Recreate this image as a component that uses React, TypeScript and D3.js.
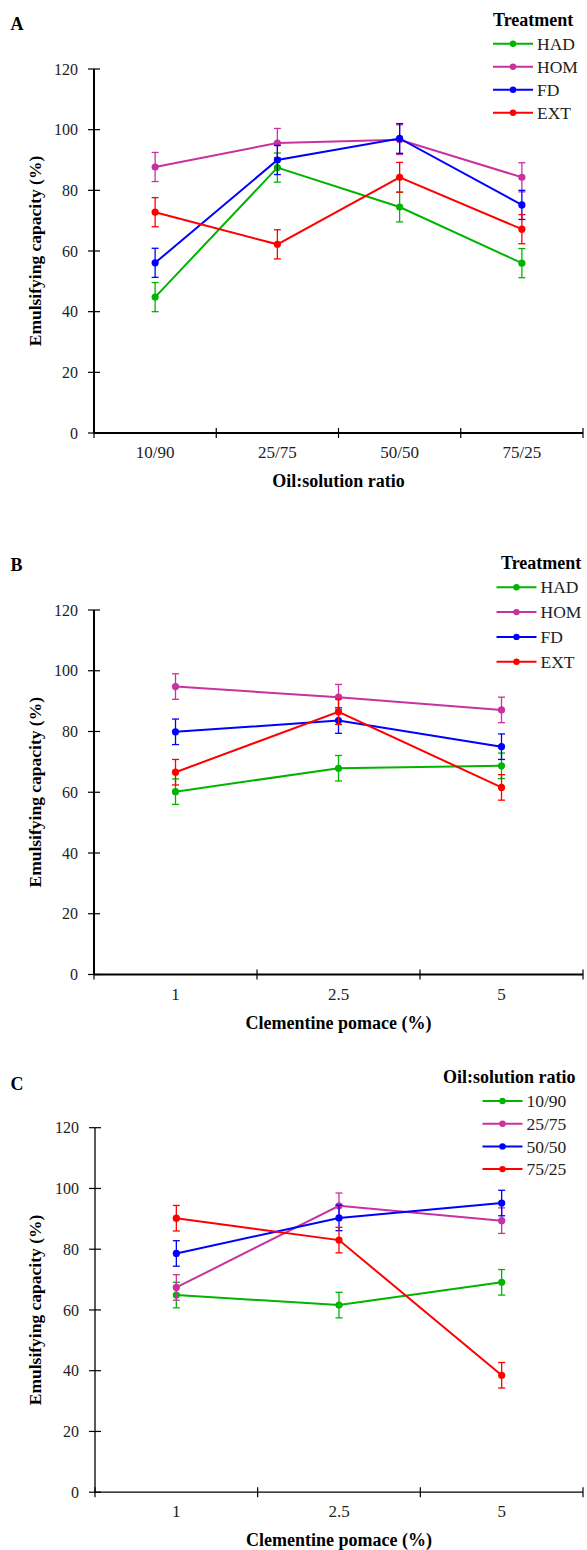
import React from 'react';
import * as d3 from 'd3';

// Panel A: emulsifying capacity by oil:solution ratio
const ratioCats = ['10/90', '25/75', '50/50', '75/25'];
const treatments = ['HAD', 'HOM', 'FD', 'EXT'];
const aHAD = [44.8, 87.5, 74.5, 56.0];
const aHOM = [87.7, 95.6, 96.7, 84.3];
const aFD = [56.1, 90.0, 97.1, 75.2];
const aEXT = [72.8, 62.2, 84.3, 67.2];
const aErr = [4.8, 4.8, 4.9, 4.8];

// Panel B: by clementine pomace, treatments
const pomaceCats = ['1', '2.5', '5'];
const bHAD = [60.2, 67.9, 68.7];
const bHOM = [94.8, 91.3, 87.1];
const bFD = [79.9, 83.6, 75.0];
const bEXT = [66.6, 86.5, 61.6];
const bErr = [4.2, 4.2, 4.2];

// Panel C: by clementine pomace, oil:solution ratios
const c1090 = [64.9, 61.6, 69.1];
const c2575 = [67.4, 94.3, 89.4];
const c5050 = [78.6, 90.3, 95.2];
const c7525 = [90.2, 83.0, 38.5];
const cErr = [4.2, 4.2, 4.2];

const yTicks = [0, 20, 40, 60, 80, 100, 120];
const colors = ['#00b400', '#c8329e', '#0000ff', '#ff0000'];

const font = '"Liberation Serif", "Times New Roman", serif';

type Series = { name: string; values: number[]; err: number[] };

type PanelProps = {
  letter: string;
  letterY: number;
  top: number;
  bottom: number;
  left: number;
  cats: string[];
  series: Series[];
  xTitle: string;
  legendTitle: string;
  legendTitleX: number;
  legendTitleY: number;
  legendX: number;
  legendY: number;
  legendStep: number;
  axisWidth: number;
};

function Panel(p: PanelProps) {
  const left = p.left;
  const right = 583;
  const x = d3.scaleBand<string>().domain(p.cats).range([left, right]);
  const y = d3.scaleLinear().domain([0, 120]).range([p.bottom, p.top]);
  const cx = (c: string) => (x(c) ?? 0) + x.bandwidth() / 2;
  const line = d3
    .line<number>()
    .x((_, i) => cx(p.cats[i]))
    .y(d => y(d));
  const bounds = [left, ...p.cats.map(c => (x(c) ?? 0) + x.bandwidth())];

  return (
    <g style={{ fontFamily: font }}>
      <text x={10.5} y={p.letterY} fontSize={18} fontWeight="bold">{p.letter}</text>
      {/* y axis */}
      <line x1={left} x2={left} y1={y(120)} y2={y(0)} stroke="#000" strokeWidth={p.axisWidth} />
      {yTicks.map(t => (
        <g key={t}>
          <line x1={left - 6} x2={left + 6} y1={y(t)} y2={y(t)} stroke="#000" strokeWidth={1.2} />
          <text x={left - 16} y={y(t)} dy="0.35em" textAnchor="end" fontSize={16} fill="#222">{t}</text>
        </g>
      ))}
      {/* x axis */}
      <line x1={left} x2={right} y1={y(0)} y2={y(0)} stroke="#000" strokeWidth={p.axisWidth} />
      {bounds.map((b, i) => (
        <line key={i} x1={b} x2={b} y1={y(0) - 5} y2={y(0) + 5} stroke="#000" strokeWidth={1.2} />
      ))}
      {p.cats.map(c => (
        <text key={c} x={cx(c)} y={y(0) + 25} textAnchor="middle" fontSize={17} fill="#222">{c}</text>
      ))}
      <text x={(left + right) / 2} y={y(0) + 54} textAnchor="middle" fontSize={18} fontWeight="bold">{p.xTitle}</text>
      <text
        transform={`translate(41,${(y(0) + y(120)) / 2}) rotate(-90)`}
        textAnchor="middle"
        fontSize={17.5}
        fontWeight="bold"
      >
        Emulsifying capacity (%)
      </text>
      {/* series */}
      {p.series.map((s, si) => (
        <g key={s.name}>
          <path d={line(s.values) ?? ''} fill="none" stroke={colors[si]} strokeWidth={2} />
          {s.values.map((v, i) => {
            const px = cx(p.cats[i]);
            const e = s.err[i];
            return (
              <g key={i} stroke={colors[si]} strokeWidth={1.3}>
                <line x1={px} x2={px} y1={y(v + e)} y2={y(v - e)} />
                <line x1={px - 3.5} x2={px + 3.5} y1={y(v + e)} y2={y(v + e)} />
                <line x1={px - 3.5} x2={px + 3.5} y1={y(v - e)} y2={y(v - e)} />
              </g>
            );
          })}
          {s.values.map((v, i) => (
            <circle key={i} cx={cx(p.cats[i])} cy={y(v)} r={3.6} fill={colors[si]} />
          ))}
        </g>
      ))}
      {/* legend */}
      <text x={p.legendTitleX} y={p.legendTitleY} fontSize={18} fontWeight="bold">{p.legendTitle}</text>
      {p.series.map((s, si) => {
        const ly = p.legendY + si * p.legendStep;
        return (
          <g key={s.name}>
            <line x1={p.legendX} x2={p.legendX + 40} y1={ly} y2={ly} stroke={colors[si]} strokeWidth={2} />
            <circle cx={p.legendX + 20} cy={ly} r={3.2} fill={colors[si]} />
            <text x={p.legendX + 44} y={ly} dy="0.35em" fontSize={17.5} fill="#222">{s.name}</text>
          </g>
        );
      })}
    </g>
  );
}

export default function App() {
  const seriesA: Series[] = [
    { name: treatments[0], values: aHAD, err: aErr },
    { name: treatments[1], values: aHOM, err: aErr },
    { name: treatments[2], values: aFD, err: aErr },
    { name: treatments[3], values: aEXT, err: aErr },
  ];
  const seriesB: Series[] = [
    { name: treatments[0], values: bHAD, err: bErr },
    { name: treatments[1], values: bHOM, err: bErr },
    { name: treatments[2], values: bFD, err: bErr },
    { name: treatments[3], values: bEXT, err: bErr },
  ];
  const seriesC: Series[] = [
    { name: ratioCats[0], values: c1090, err: cErr },
    { name: ratioCats[1], values: c2575, err: cErr },
    { name: ratioCats[2], values: c5050, err: cErr },
    { name: ratioCats[3], values: c7525, err: cErr },
  ];

  return (
    <svg width={587} height={1550} style={{ position: 'absolute', left: 0, top: 0, background: '#fff' }}>
      <Panel
        letter="A" letterY={30} top={69} bottom={433} left={94}
        cats={ratioCats} series={seriesA} xTitle="Oil:solution ratio"
        legendTitle="Treatment" legendTitleX={493} legendTitleY={26}
        legendX={493} legendY={43.7} legendStep={23} axisWidth={2}
      />
      <Panel
        letter="B" letterY={571} top={610} bottom={974.5} left={94}
        cats={pomaceCats} series={seriesB} xTitle="Clementine pomace (%)"
        legendTitle="Treatment" legendTitleX={501} legendTitleY={568.5}
        legendX={496.5} legendY={587.3} legendStep={24.8} axisWidth={2}
      />
      <Panel
        letter="C" letterY={1090} top={1127.7} bottom={1492.2} left={95}
        cats={pomaceCats} series={seriesC} xTitle="Clementine pomace (%)"
        legendTitle="Oil:solution ratio" legendTitleX={443} legendTitleY={1083}
        legendX={482.5} legendY={1101} legendStep={22.7} axisWidth={1.3}
      />
    </svg>
  );
}
